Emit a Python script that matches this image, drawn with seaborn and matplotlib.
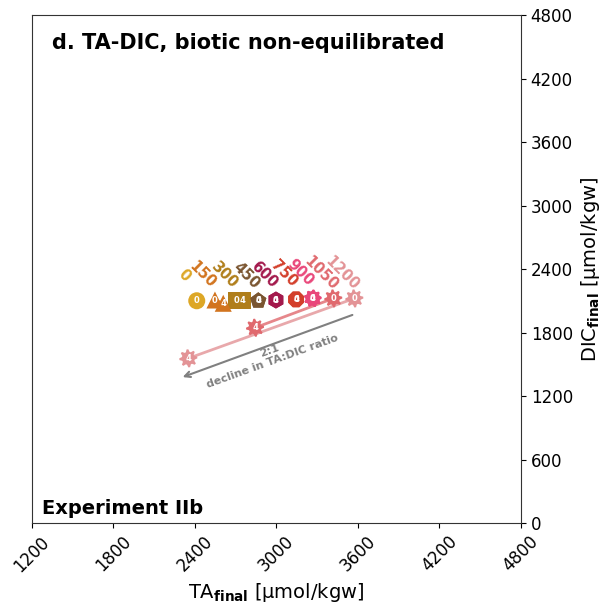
import numpy as np
import pandas as pd
import matplotlib
matplotlib.use("Agg")
import matplotlib.pyplot as plt
import seaborn as sns

sns.set_style("ticks")
plt.rcParams['font.family'] = ['DejaVu Sans']
plt.rcParams['text.color'] = 'black'
plt.rcParams['axes.labelcolor'] = 'black'
plt.rcParams['xtick.color'] = 'black'
plt.rcParams['ytick.color'] = 'black'

# alkalinity addition treatments and their measured TA / DIC (day 0 and day 4)
treatments = [0, 150, 300, 450, 600, 750, 900, 1050, 1200]
ta_day0 = [2413, 2547, 2707, 2866, 2996, 3144, 3267, 3418, 3573]
dic_day0 = [2100, 2107, 2107, 2100, 2107, 2113, 2122, 2122, 2122]
ta_day4 = [np.nan, 2608, 2751, 2866, 2996, 3144, 3267, 2842, 2351]
dic_day4 = [np.nan, 2076, 2100, 2100, 2107, 2113, 2122, 1845, 1556]

colors = ['#DDA726', '#D2741F', '#B07E1A', '#7A5530', '#A3194C',
          '#D33F2B', '#E9477A', '#E0696E', '#E39396']


def gear(n, depth):
    ang = np.linspace(0, 2 * np.pi, 4 * n, endpoint=False)
    r = np.where((np.arange(4 * n) // 2) % 2 == 0, 1.0, 1.0 - depth)
    return list(zip(r * np.cos(ang), r * np.sin(ang)))


markers = ['o', '^', 's', 'p', 'h', '8', gear(9, 0.18), gear(8, 0.28), gear(8, 0.28)]
sizes = [150, 150, 150, 150, 150, 150, 160, 170, 170]

df0 = pd.DataFrame({'trt': treatments, 'TA': ta_day0, 'DIC': dic_day0, 'day': 0})
df4 = pd.DataFrame({'trt': treatments, 'TA': ta_day4, 'DIC': dic_day4, 'day': 4})

fig = plt.figure(figsize=(6.09, 6.10), dpi=100)
ax = fig.add_axes([0.0525, 0.1426, 0.803, 0.8328])

# lines from day 0 to day 4
for i, t in enumerate(treatments):
    if not np.isnan(ta_day4[i]):
        ax.plot([ta_day0[i], ta_day4[i]], [dic_day0[i], dic_day4[i]],
                color=colors[i], lw=2, alpha=0.8, zorder=1)

for df in [df0, df4]:
    for i, t in enumerate(treatments):
        sub = df[df['trt'] == t].dropna()
        if sub.empty:
            continue
        sns.scatterplot(data=sub, x='TA', y='DIC', color=colors[i], marker=markers[i],
                        s=sizes[i], edgecolor='none', ax=ax, zorder=3, legend=False)
        ax.text(sub['TA'].iloc[0], sub['DIC'].iloc[0], str(sub['day'].iloc[0]),
                color='white', fontsize=6, fontweight='bold',
                ha='center', va='center', zorder=4)

# treatment labels
for i, t in enumerate(treatments):
    ax.text(ta_day0[i] - 90, dic_day0[i] + 240, str(t), color=colors[i],
            fontsize=10.5, fontweight='bold', rotation=-45,
            ha='center', va='center', zorder=4)

# 2:1 arrow
ax.annotate('', xy=(2290, 1370), xytext=(3578, 1975),
            arrowprops=dict(arrowstyle='->', color='gray', lw=1.5))
ax.text(2960, 1580, '2:1\ndecline in TA:DIC ratio', color='gray', fontsize=8,
        fontweight='bold', rotation=20, ha='center', va='center', linespacing=1.1)

ax.set_xlim(1200, 4800)
ax.set_ylim(0, 4800)
ax.set_xticks(np.arange(1200, 4801, 600))
ax.set_yticks(np.arange(0, 4801, 600))
ax.yaxis.tick_right()
ax.yaxis.set_label_position('right')
ax.tick_params(axis='both', labelsize=12)
plt.setp(ax.get_xticklabels(), rotation=45)
ax.set_xlabel(r'TA$_{\mathbf{final}}$ [µmol/kgw]', fontsize=14)
ax.set_ylabel(r'DIC$_{\mathbf{final}}$ [µmol/kgw]', fontsize=14)
for sp in ax.spines.values():
    sp.set_visible(True)
    sp.set_color('#333333')

ax.text(0.04, 0.965, 'd. TA-DIC, biotic non-equilibrated', transform=ax.transAxes,
        fontsize=15, fontweight='bold', ha='left', va='top')
ax.text(0.02, 0.01, 'Experiment IIb', transform=ax.transAxes,
        fontsize=14, fontweight='bold', ha='left', va='bottom')

fig.savefig('out.png', dpi=100)
